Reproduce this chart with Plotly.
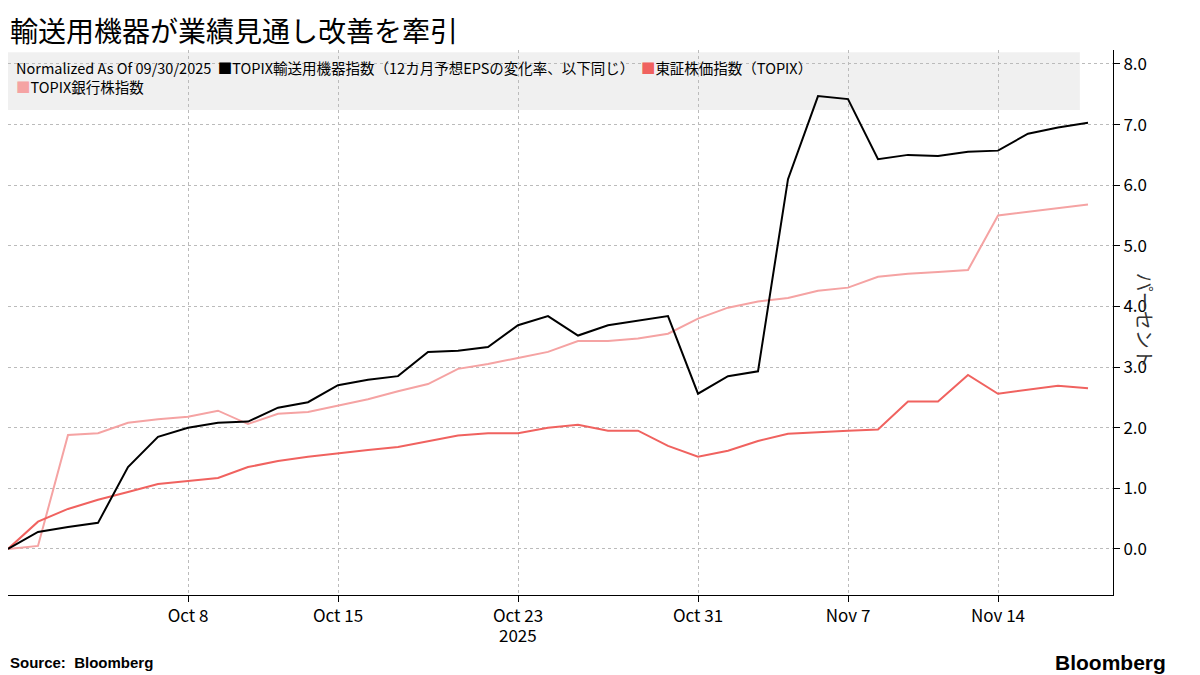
import pandas as pd
import plotly.graph_objects as go

dates = pd.bdate_range("2025-09-30", "2025-11-19")

transport_eps = [0, 0.28, 0.36, 0.43, 1.35, 1.85, 2.0, 2.08, 2.1, 2.33, 2.42, 2.7, 2.79, 2.85,
                 3.25, 3.27, 3.33, 3.69, 3.84, 3.52, 3.69, 3.76, 3.84, 2.56, 2.85, 2.93,
                 6.1, 7.47, 7.42, 6.43, 6.5, 6.48, 6.55, 6.57, 6.85, 6.95, 7.03]
topix = [0, 0.45, 0.66, 0.81, 0.94, 1.07, 1.12, 1.17, 1.35, 1.45, 1.52, 1.58, 1.63, 1.68,
         1.77, 1.87, 1.91, 1.91, 2.0, 2.05, 1.95, 1.95, 1.7, 1.52, 1.62, 1.78,
         1.9, 1.93, 1.95, 1.97, 2.43, 2.43, 2.87, 2.56, 2.62, 2.69, 2.65]
banks = [0, 0.05, 1.88, 1.91, 2.08, 2.14, 2.18, 2.28, 2.06, 2.23, 2.26, 2.36, 2.47, 2.6,
         2.72, 2.97, 3.05, 3.15, 3.25, 3.43, 3.43, 3.47, 3.55, 3.8, 3.98, 4.08,
         4.14, 4.26, 4.31, 4.49, 4.54, 4.57, 4.6, 5.5, 5.56, 5.63, 5.68]

tick_dates = ["2025-10-08", "2025-10-15", "2025-10-23", "2025-10-31", "2025-11-07", "2025-11-14"]
tick_text = ["Oct 8", "Oct 15", "Oct 23", "Oct 31", "Nov 7", "Nov 14"]
y_ticks = [0, 1, 2, 3, 4, 5, 6, 7, 8]

FONT = "Noto Sans CJK JP, Noto Sans, sans-serif"
BLACK, RED, PINK = "#000000", "#f0625f", "#f5a3a3"

fig = go.Figure()
fig.add_trace(go.Scatter(x=dates, y=banks, mode="lines", line=dict(color=PINK, width=2)))
fig.add_trace(go.Scatter(x=dates, y=topix, mode="lines", line=dict(color=RED, width=2)))
fig.add_trace(go.Scatter(x=dates, y=transport_eps, mode="lines", line=dict(color=BLACK, width=2)))

fig.update_layout(
    width=1192, height=667,
    margin=dict(l=0, r=87, t=42, b=80),
    plot_bgcolor="white", paper_bgcolor="white",
    showlegend=False,
    font=dict(family=FONT, size=17, color="black"),
    xaxis=dict(
        range=["2025-09-30", "2025-11-19 20:00"],
        rangebreaks=[dict(bounds=["sat", "mon"])],
        tickvals=tick_dates, ticktext=tick_text,
        showgrid=True, gridcolor="#bbbbbb", griddash="dot",
        ticks="outside", ticklen=6, tickcolor="black",
        showline=True, linecolor="black",
        tickfont=dict(size=17),
    ),
    yaxis=dict(
        side="right", range=[-0.76, 8.23],
        tickvals=y_ticks, tickformat=".1f",
        showgrid=True, gridcolor="#bbbbbb", griddash="dot",
        zeroline=False,
        ticks="outside", ticklen=6, tickcolor="black",
        showline=True, linecolor="black",
        tickfont=dict(size=17),
    ),
    shapes=[dict(type="rect", xref="paper", yref="paper", x0=0, x1=0.97, y0=0.89, y1=0.996,
                 fillcolor="#f0f0f0", line=dict(width=0), layer="below")],
    annotations=[
        dict(text="輸送用機器が業績見通し改善を牽引", xref="paper", yref="paper",
             x=0, y=1.077, xanchor="left", yanchor="top", showarrow=False,
             font=dict(size=28, family=FONT, color="black")),
        dict(text=("Normalized As Of 09/30/2025  <span style='color:#000'>■</span>TOPIX輸送用機器指数（12カ月予想EPSの変化率、以下同じ）"
                   "  <span style='color:%s'>■</span>東証株価指数（TOPIX）<br><span style='color:%s'>■</span>TOPIX銀行株指数" % (RED, PINK)),
             xref="paper", yref="paper", x=0.005, y=0.99, xanchor="left", yanchor="top",
             align="left", showarrow=False, font=dict(size=14.5, family=FONT, color="black")),
        dict(text="パーセント", xref="paper", yref="paper", x=1.043, y=0.505, textangle=90,
             showarrow=False, font=dict(size=19, family=FONT, color="#333")),
        dict(text="2025", xref="x", yref="paper", x="2025-10-23", y=-0.073, yanchor="middle",
             showarrow=False, font=dict(size=17)),
        dict(text="<b>Source:  Bloomberg</b>", xref="paper", yref="paper", x=0.0, y=-0.123,
             xanchor="left", yanchor="middle", showarrow=False, font=dict(size=15, family="Liberation Sans")),
        dict(text="<b>Bloomberg</b>", xref="paper", yref="paper", x=1.05, y=-0.123,
             xanchor="right", yanchor="middle", showarrow=False, font=dict(size=21, family="Liberation Sans")),
    ],
)

fig.write_html("out.html")
